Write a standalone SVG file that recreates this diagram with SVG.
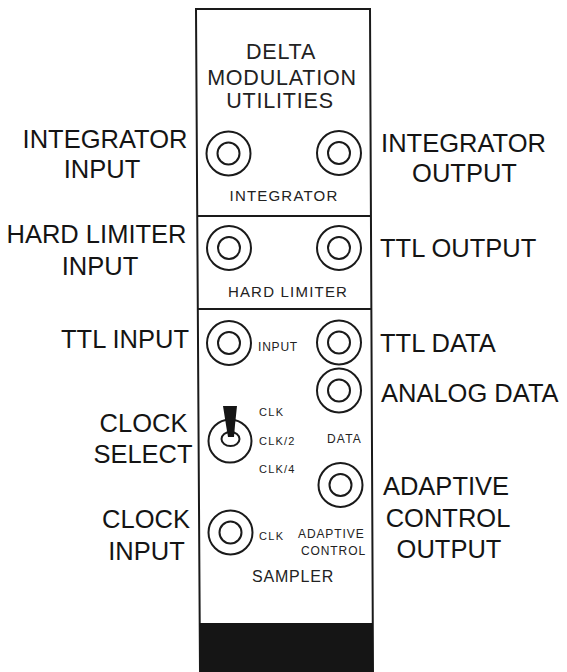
<svg xmlns="http://www.w3.org/2000/svg" width="567" height="672" viewBox="0 0 567 672">
<style>
.ln{fill:none;stroke:#1a1a1a;stroke-width:2}
.big{font-family:"Liberation Sans",Arial,sans-serif;font-size:25.5px;fill:#141414}
.ttl{font-family:"Liberation Sans",Arial,sans-serif;font-size:21.5px;fill:#222;letter-spacing:0.8px;text-anchor:middle}
.sec{font-family:"Liberation Sans",Arial,sans-serif;font-size:15px;fill:#222;letter-spacing:1.2px;text-anchor:middle}
.sm{font-family:"Liberation Sans",Arial,sans-serif;font-size:12px;fill:#222;letter-spacing:0.8px}
.mid{text-anchor:middle}
</style>
<defs>
<g id="jack"><circle r="22" class="ln"/><circle r="11" class="ln"/></g>
</defs>
<rect width="567" height="672" fill="#fff"/>
<g id="panel">
<polygon points="196,9 370,9 373,672 200,672" class="ln"/>
<line x1="197" y1="216" x2="371" y2="216" class="ln"/>
<line x1="198" y1="309" x2="371.5" y2="309" class="ln"/>
<polygon points="199.7,623 372.8,623 373,672 200,672" fill="#151515"/>
</g>
<g id="title">
<text class="ttl" x="281" y="58.5">DELTA</text>
<text class="ttl" x="282" y="84.5">MODULATION</text>
<text class="ttl" x="280" y="108">UTILITIES</text>
</g>
<g id="integrator-section">
<use href="#jack" x="228.5" y="153.5"/>
<use href="#jack" x="339" y="153"/>
<text class="sec" x="284" y="201">INTEGRATOR</text>
</g>
<g id="hard-limiter-section">
<use href="#jack" x="229" y="248"/>
<use href="#jack" x="339" y="248"/>
<text class="sec" x="288" y="296.5">HARD LIMITER</text>
</g>
<g id="sampler-section">
<use href="#jack" x="229" y="343"/>
<text class="sm" x="258" y="350.5">INPUT</text>
<use href="#jack" x="339" y="342.5"/>
<use href="#jack" x="339" y="390.5"/>
<g id="clock-switch">
<circle cx="230" cy="441" r="21.5" class="ln"/>
<ellipse cx="230.5" cy="439" rx="9" ry="7" class="ln"/>
<polygon points="223,406 237,406 235,425 234,437 228,437 226,425" fill="#151515"/>
</g>
<text class="sm" x="259" y="416" style="font-size:11px;letter-spacing:1.4px">CLK</text>
<text class="sm" x="259" y="445" style="font-size:11px;letter-spacing:1.2px">CLK/2</text>
<text class="sm" x="259" y="473" style="font-size:11px;letter-spacing:1.2px">CLK/4</text>
<text class="sm" x="327" y="442.5" style="letter-spacing:1.2px">DATA</text>
<use href="#jack" x="340.5" y="485"/>
<use href="#jack" x="230.5" y="532.5"/>
<text class="sm" x="259" y="540" style="font-size:11px;letter-spacing:1.4px">CLK</text>
<text class="sm" x="298" y="537.5" style="letter-spacing:0.9px">ADAPTIVE</text>
<text class="sm" x="301" y="555" style="letter-spacing:0.9px">CONTROL</text>
<text class="sec" x="293" y="582" style="font-size:16px;letter-spacing:0.8px">SAMPLER</text>
</g>
<g id="left-labels">
<g id="lbl-integrator-input"><text class="big mid" x="105" y="148">INTEGRATOR</text><text class="big mid" x="102" y="178">INPUT</text></g>
<g id="lbl-hard-limiter-input"><text class="big mid" x="96.5" y="243">HARD LIMITER</text><text class="big mid" x="100" y="275">INPUT</text></g>
<g id="lbl-ttl-input"><text class="big mid" x="125" y="348">TTL INPUT</text></g>
<g id="lbl-clock-select"><text class="big mid" x="143.5" y="432">CLOCK</text><text class="big mid" x="143" y="463">SELECT</text></g>
<g id="lbl-clock-input"><text class="big mid" x="146" y="528">CLOCK</text><text class="big mid" x="146.5" y="560">INPUT</text></g>
</g>
<g id="right-labels">
<g id="lbl-integrator-output"><text class="big mid" x="463.5" y="152">INTEGRATOR</text><text class="big mid" x="464.5" y="182">OUTPUT</text></g>
<g id="lbl-ttl-output"><text class="big" x="380" y="257">TTL OUTPUT</text></g>
<g id="lbl-ttl-data"><text class="big" x="380" y="352">TTL DATA</text></g>
<g id="lbl-analog-data"><text class="big" x="381" y="402">ANALOG DATA</text></g>
<g id="lbl-adaptive-control-output"><text class="big mid" x="446" y="495">ADAPTIVE</text><text class="big mid" x="448" y="527">CONTROL</text><text class="big mid" x="449" y="558">OUTPUT</text></g>
</g>
<g id="connectors"/>
</svg>
